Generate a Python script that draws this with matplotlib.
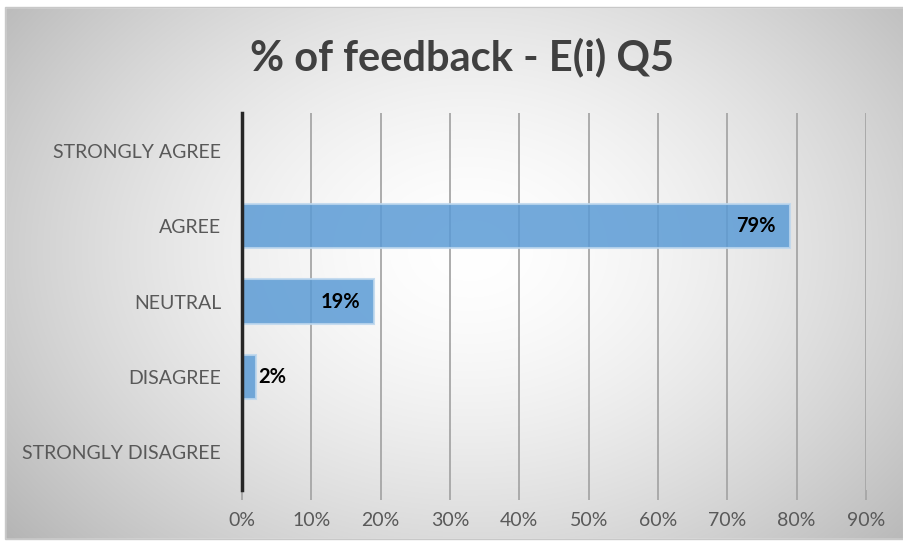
import matplotlib.pyplot as plt
import numpy as np
from matplotlib.patches import Rectangle

# survey answers, top to bottom
categories = ["STRONGLY AGREE", "AGREE", "NEUTRAL", "DISAGREE", "STRONGLY DISAGREE"]
percent = [0, 79, 19, 2, 0]
x_ticks = [0, 10, 20, 30, 40, 50, 60, 70, 80, 90]

plt.rcParams['font.family'] = ['Lato', 'DejaVu Sans']

W, H = 904, 545
fig = plt.figure(figsize=(W / 100, H / 100), dpi=100)

# radial grey-to-white background
bg = fig.add_axes([0, 0, 1, 1], zorder=0)
yy, xx = np.mgrid[0:H, 0:W]
r = np.sqrt(((xx - 470) / 560.0) ** 2 + ((yy - 250) / 420.0) ** 2)
shade = np.clip(1.0 - 0.26 * r ** 1.6, 0, 1)
bg.imshow(np.dstack([shade] * 3), extent=[0, W, H, 0], aspect='auto')
bg.add_patch(Rectangle((0, 0), W, 7, color='white'))
bg.add_patch(Rectangle((0, 0), 5, H, color='white'))
bg.add_patch(Rectangle((0, 539), W, 6, color='white'))
bg.add_patch(Rectangle((5, 7), 898, 532, fill=False, edgecolor='#c8c8c8', lw=1))
bg.set_xlim(0, W)
bg.set_ylim(H, 0)
bg.axis('off')

ax = fig.add_axes([242 / W, 1 - 490 / H, 624 / W, 377 / H], zorder=1)
ax.patch.set_alpha(0)

y = np.arange(len(categories))
bars = ax.barh(y, percent, height=0.59, color='#5b9bd5', alpha=0.85,
               edgecolor='#bdd7ee', linewidth=1.5, zorder=2)

for rect, v in zip(bars, percent):
    if v == 0:
        continue
    cy = rect.get_y() + rect.get_height() / 2
    if v > 5:
        ax.annotate(f"{v}%", (v, cy), xytext=(-10, 0), textcoords='offset points',
                    ha='right', va='center', fontsize=14.5, fontweight='bold',
                    color='black', zorder=3)
    else:
        ax.annotate(f"{v}%", (v, cy), xytext=(2, 0), textcoords='offset points',
                    ha='left', va='center', fontsize=14.5, fontweight='bold',
                    color='black', zorder=3)

ax.set_xlim(0, 90)
ax.set_ylim(len(categories) - 0.5, -0.5)
ax.set_xticks(x_ticks)
ax.set_xticklabels([f"{t}%" for t in x_ticks])
ax.set_yticks(y)
ax.set_yticklabels(categories)

ax.grid(axis='x', color='#a6a6a6', linewidth=1.3, zorder=1)
ax.set_axisbelow(True)
for s in ['top', 'right', 'bottom']:
    ax.spines[s].set_visible(False)
ax.spines['left'].set_color('#262626')
ax.spines['left'].set_linewidth(2.5)

ax.tick_params(axis='x', length=7, width=1.3, color='#a6a6a6', labelsize=14,
               labelcolor='#595959', pad=9)
ax.tick_params(axis='y', length=0, labelsize=14, labelcolor='#595959', pad=15)

fig.text(462 / W, 1 - 57 / H, "% of feedback - E(i) Q5", ha='center', va='center',
         fontsize=30, fontweight='bold', color='#404040')

fig.savefig("out.png", dpi=100)
